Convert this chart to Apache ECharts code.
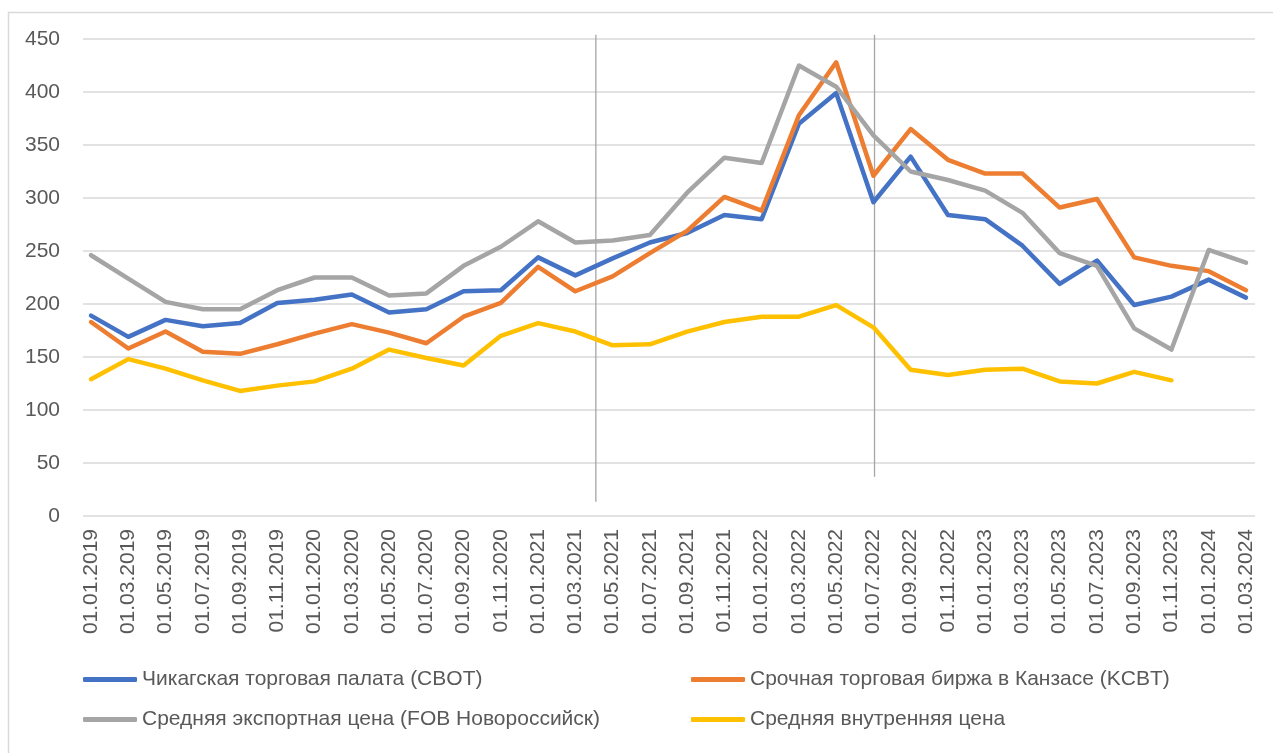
<!DOCTYPE html>
<html>
<head>
<meta charset="utf-8">
<script src="https://cdn.jsdelivr.net/npm/echarts@6/dist/echarts.min.js"></script>
<style>
  html, body { margin: 0; padding: 0; background: #fff; }
  #chart { width: 1273px; height: 753px; }
</style>
</head>
<body>
<div id="chart"></div>
<script>
// dates, every two months
var categories = [
  '01.01.2019', '01.03.2019', '01.05.2019', '01.07.2019', '01.09.2019', '01.11.2019',
  '01.01.2020', '01.03.2020', '01.05.2020', '01.07.2020', '01.09.2020', '01.11.2020',
  '01.01.2021', '01.03.2021', '01.05.2021', '01.07.2021', '01.09.2021', '01.11.2021',
  '01.01.2022', '01.03.2022', '01.05.2022', '01.07.2022', '01.09.2022', '01.11.2022',
  '01.01.2023', '01.03.2023', '01.05.2023', '01.07.2023', '01.09.2023', '01.11.2023',
  '01.01.2024', '01.03.2024'
];

var seriesNames = [
  'Чикагская торговая палата (CBOT)',
  'Срочная торговая биржа в Канзасе (KCBT)',
  'Средняя экспортная цена (FOB Новороссийск)',
  'Средняя внутренняя цена'
];

var cbot = [189, 169, 185, 179, 182, 201, 204, 209, 192, 195, 212, 213, 244, 227, 243, 258,
  267, 284, 280, 370, 399, 296, 339, 284, 280, 255, 219, 241, 199, 207, 223, 206];
var kcbt = [183, 158, 174, 155, 153, 162, 172, 181, 173, 163, 188, 201, 235, 212, 226, 248,
  269, 301, 288, 378, 428, 321, 365, 336, 323, 323, 291, 299, 244, 236, 231, 213];
var fob = [246, 224, 202, 195, 195, 213, 225, 225, 208, 210, 236, 254, 278, 258, 260, 265,
  305, 338, 333, 425, 405, 359, 325, 317, 307, 286, 248, 236, 177, 157, 251, 239];
var domestic = [129, 148, 139, 128, 118, 123, 127, 139, 157, 149, 142, 170, 182, 174, 161, 162,
  174, 183, 188, 188, 199, 178, 138, 133, 138, 139, 127, 125, 136, 128, null, null];

// vertical separators, [category position, bottom value, top value]
var separators = [
  [13.55, 13.5, 454],
  [21.03, 37, 454]
];

var yTicks = { min: 0, max: 450, interval: 50 };

var colors = ['#4472C4', '#ED7D31', '#A5A5A5', '#FFC000'];
var fontFamily = '"Liberation Sans", Arial, sans-serif';
var labelColor = '#595959';

var myChart = echarts.init(document.getElementById('chart'));

function lineSeries(name, data, color) {
  return {
    name: name,
    type: 'line',
    xAxisIndex: 0,
    yAxisIndex: 0,
    data: data,
    symbol: 'none',
    connectNulls: false,
    lineStyle: { color: color, width: 4.5, cap: 'round', join: 'round' },
    itemStyle: { color: color },
    z: 3
  };
}

function legendColumn(names, left) {
  return {
    data: names,
    orient: 'vertical',
    left: left,
    top: 669,
    padding: 0,
    itemGap: 19,
    itemWidth: 54,
    itemHeight: 5,
    icon: 'roundRect',
    textStyle: { fontSize: 21, color: labelColor, fontFamily: fontFamily }
  };
}

var series = [
  lineSeries(seriesNames[0], cbot, colors[0]),
  lineSeries(seriesNames[1], kcbt, colors[1]),
  lineSeries(seriesNames[2], fob, colors[2]),
  lineSeries(seriesNames[3], domestic, colors[3])
];

separators.forEach(function (s) {
  series.push({
    type: 'line',
    xAxisIndex: 1,
    yAxisIndex: 1,
    data: [[s[0], s[1]], [s[0], s[2]]],
    symbol: 'none',
    clip: false,
    silent: true,
    lineStyle: { color: '#A6A6A6', width: 1.3 },
    z: 2
  });
});

var option = {
  animation: false,
  backgroundColor: '#fff',
  color: colors,
  textStyle: { fontFamily: fontFamily },
  graphic: [{
    type: 'rect',
    left: 6,
    top: 10,
    shape: { width: 1400, height: 900 },
    style: { fill: 'none', stroke: '#D9D9D9', lineWidth: 1.5 },
    silent: true,
    z: -10
  }],
  legend: [
    legendColumn([seriesNames[0], seriesNames[2]], 83),
    legendColumn([seriesNames[1], seriesNames[3]], 691)
  ],
  grid: [
    // data grid
    { left: 72.4, right: 8.4, top: 39, bottom: 237, containLabel: false },
    // background grid for the gridlines and value labels
    { left: 83, right: 18, top: 39, bottom: 237, containLabel: false }
  ],
  xAxis: [{
    type: 'category',
    gridIndex: 0,
    data: categories,
    boundaryGap: true,
    axisLine: { show: false },
    axisTick: { show: false },
    axisLabel: {
      interval: 0,
      rotate: 90,
      margin: 13,
      fontSize: 21,
      color: labelColor,
      fontFamily: fontFamily
    },
    splitLine: { show: false }
  }, {
    type: 'value',
    gridIndex: 0,
    min: -0.5,
    max: categories.length - 0.5,
    show: false
  }, {
    type: 'category',
    gridIndex: 1,
    data: categories,
    show: false
  }],
  yAxis: [{
    type: 'value',
    gridIndex: 0,
    min: yTicks.min,
    max: yTicks.max,
    interval: yTicks.interval,
    show: false
  }, {
    type: 'value',
    gridIndex: 0,
    min: yTicks.min,
    max: yTicks.max,
    interval: yTicks.interval,
    show: false
  }, {
    type: 'value',
    gridIndex: 1,
    min: yTicks.min,
    max: yTicks.max,
    interval: yTicks.interval,
    axisLine: { show: false },
    axisTick: { show: false },
    axisLabel: {
      margin: 23,
      fontSize: 21,
      color: labelColor,
      fontFamily: fontFamily
    },
    splitLine: { lineStyle: { color: '#D9D9D9', width: 1.5 } }
  }],
  series: series
};

myChart.setOption(option);
</script>
</body>
</html>
